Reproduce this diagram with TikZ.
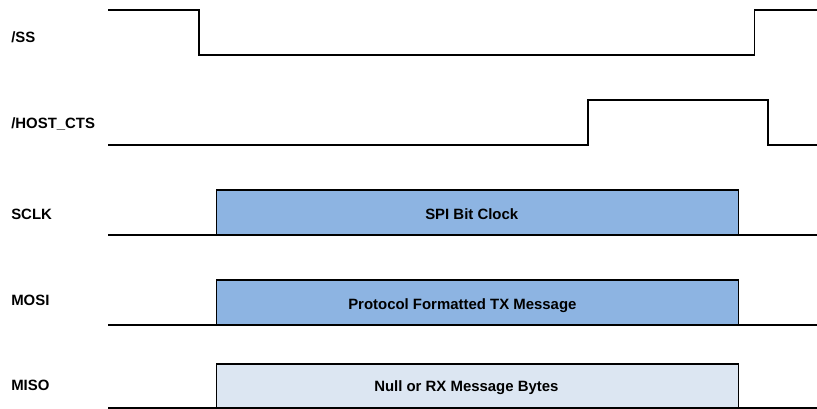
\documentclass[tikz,border=0pt]{standalone}
\usepackage{fontspec}
\setmainfont{Liberation Sans}
\definecolor{busblue}{HTML}{8DB4E2}
\definecolor{buspale}{HTML}{DCE6F2}
\begin{document}
\begin{tikzpicture}[x=0.75pt,y=-0.75pt,
  sig/.style={line width=1pt,black,line join=miter},
  lbl/.style={font=\bfseries\fontsize{11.2}{13}\selectfont,anchor=base west,inner sep=0pt},
  busbox/.style={draw=black,line width=1pt,anchor=south west,inner sep=0pt,outer sep=0pt,minimum width=391.5pt},
  bustext/.style={font=\bfseries\fontsize{11.2}{13}\selectfont,anchor=base west,inner sep=0pt}]
\useasboundingbox (0,0) rectangle (817,409);
% labels
\node[lbl] (lss) at (11,42.3) {/SS};
\node[lbl] (lcts) at (11,129) {/HOST\_CTS};
\node[lbl] (lsclk) at (11,220) {SCLK};
\node[lbl] (lmosi) at (11,306) {MOSI};
\node[lbl] (lmiso) at (11,390) {MISO};
% /SS
\draw[sig] (108,10) -- (199,10) -- (199,55) -- (754.5,55) -- (754.5,10) -- (817,10);
% /HOST_CTS
\draw[sig] (108,145) -- (588,145) -- (588,100) -- (768,100) -- (768,145) -- (817,145);
% SCLK
\node[busbox,fill=busblue,minimum height=33.75pt] (sclk) at (216.7,235) {};
\draw[sig] (108,235) -- (sclk.south west);
\draw[sig] (sclk.south east) -- (817,235);
\node[bustext] (tsclk) at (425,220) {SPI Bit Clock};
% MOSI
\node[busbox,fill=busblue,minimum height=33.75pt] (mosi) at (216.7,325) {};
\draw[sig] (108,325) -- (mosi.south west);
\draw[sig] (mosi.south east) -- (817,325);
\node[bustext] (tmosi) at (348,310) {Protocol Formatted TX Message};
% MISO
\node[busbox,fill=buspale,minimum height=33pt] (miso) at (216.7,408) {};
\draw[sig] (108,408) -- (miso.south west);
\draw[sig] (miso.south east) -- (817,408);
\node[bustext] (tmiso) at (374,391.5) {Null or RX Message Bytes};
\end{tikzpicture}
\end{document}
